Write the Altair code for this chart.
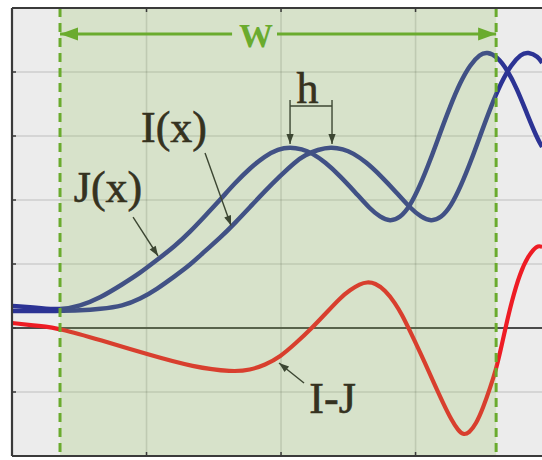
import math
import altair as alt
import pandas as pd

# ---- curve samples (x and y in grid units) ----
j_x = [0.000, 0.208, 0.357, 0.506, 0.654, 0.825, 0.952, 1.078, 1.212, 1.323, 1.435, 1.546,
       1.658, 1.770, 1.881, 1.978, 2.067, 2.156, 2.230, 2.327, 2.439, 2.550, 2.662, 2.736,
       2.810, 2.885, 2.959, 3.033, 3.108, 3.182, 3.257, 3.331, 3.405, 3.480, 3.532, 3.606,
       3.680, 3.755, 3.829, 3.903, 3.941]
j_y = [0.344, 0.313, 0.281, 0.344, 0.469, 0.688, 0.859, 1.063, 1.281, 1.500, 1.750, 2.000,
       2.266, 2.500, 2.688, 2.797, 2.828, 2.797, 2.734, 2.594, 2.375, 2.125, 1.859, 1.734,
       1.664, 1.719, 1.906, 2.223, 2.614, 3.042, 3.463, 3.834, 4.114, 4.280, 4.313, 4.242,
       4.041, 3.734, 3.344, 2.969, 2.828]

i_x = [0.000, 0.357, 0.506, 0.654, 0.825, 0.952, 1.078, 1.212, 1.323, 1.435, 1.546, 1.658,
       1.770, 1.881, 1.993, 2.104, 2.178, 2.275, 2.372, 2.461, 2.535, 2.632, 2.743, 2.855,
       2.967, 3.041, 3.115, 3.190, 3.264, 3.338, 3.413, 3.487, 3.561, 3.636, 3.710, 3.784,
       3.836, 3.911, 3.941]
i_y = [0.266, 0.266, 0.273, 0.297, 0.344, 0.453, 0.609, 0.813, 0.984, 1.203, 1.406, 1.641,
       1.891, 2.141, 2.375, 2.594, 2.703, 2.789, 2.828, 2.797, 2.734, 2.594, 2.375, 2.125,
       1.859, 1.734, 1.664, 1.719, 1.906, 2.223, 2.614, 3.042, 3.463, 3.834, 4.114, 4.280,
       4.313, 4.242, 4.141]

d_x = [0.000, 0.208, 0.357, 0.654, 1.026, 1.346, 1.643, 1.770, 1.881, 1.993, 2.112, 2.230,
       2.335, 2.439, 2.513, 2.587, 2.639, 2.699, 2.773, 2.848, 2.900, 2.944, 3.033, 3.130,
       3.204, 3.271, 3.316, 3.353, 3.398, 3.450, 3.502, 3.554, 3.599, 3.636, 3.665, 3.717,
       3.777, 3.836, 3.903, 3.941]
d_y = [0.078, 0.031, -0.008, -0.188, -0.422, -0.609, -0.688, -0.656, -0.578, -0.453, -0.234,
       0.000, 0.234, 0.469, 0.594, 0.688, 0.719, 0.703, 0.594, 0.391, 0.203, 0.016, -0.375,
       -0.828, -1.172, -1.453, -1.594, -1.672, -1.641, -1.500, -1.250, -0.938, -0.641,
       -0.313, -0.031, 0.438, 0.859, 1.125, 1.297, 1.266]

# ---- frame ----
X_MAX = 3.94
Y_MIN, Y_MAX = -2, 5
W, H = 530, 448
grid_x = [1, 2, 3]
grid_y = [-1, 1, 2, 3, 4]
win_lo, win_hi = 0.357, 3.599          # window W (dashed bounds)
w_arrow_y = 4.594
w_gap = (1.636, 1.970)                   # gap in the arrow for the label
w_label = (1.814, 4.39)

h_left, h_right = 2.067, 2.379           # peaks of J and I
h_bar_y, h_top_y, h_tip_y = 3.469, 3.5625, 2.875
h_label = (2.197, 3.516)

labels = pd.DataFrame({
    "x": [1.204, 0.714, 2.383],
    "y": [2.906, 1.969, -1.328],
    "t": ["I(x)", "J(x)", "I-J"],
})

# pointers: start -> tip
pointers = pd.DataFrame({
    "x": [1.435, 0.900, 2.171],
    "y": [2.734, 1.734, -0.859],
    "x2": [1.628, 1.086, 1.985],
    "y2": [1.600, 1.125, -0.547],
})

BLUE = "#2c3394"
RED = "#ee1c25"
GREEN = "#6aab2e"
INK = "#35321f"
PTR = "#3c4632"
SERIF = "Liberation Serif"
HEAD = "M0,0L-2,-0.72L-2,0.72Z"

xs = alt.Scale(domain=[0, X_MAX], nice=False, zero=False)
ys = alt.Scale(domain=[Y_MIN, Y_MAX], nice=False, zero=False)


def X(f="x"):
    return alt.X(f"{f}:Q", scale=xs, axis=None)


def Y(f="y"):
    return alt.Y(f"{f}:Q", scale=ys, axis=None)


def angle_of(x0, y0, x1, y1):
    dx = (x1 - x0) * W / X_MAX
    dy = -(y1 - y0) * H / (Y_MAX - Y_MIN)
    return math.degrees(math.atan2(dy, dx)) % 360


# gridlines
vgrid = alt.Chart(pd.DataFrame({"x": grid_x})).mark_rule(
    color="#000", opacity=0.13, strokeWidth=1.6).encode(x=X())
hgrid = alt.Chart(pd.DataFrame({"y": grid_y})).mark_rule(
    color="#000", opacity=0.13, strokeWidth=1.6).encode(y=Y())
zero = alt.Chart(pd.DataFrame({"y": [0]})).mark_rule(
    color="#4a4a4a", strokeWidth=2).encode(y=Y())


# curves
def curve(xv, yv, color, width):
    return alt.Chart(pd.DataFrame({"x": xv, "y": yv})).mark_line(
        color=color, strokeWidth=width, interpolate="basis").encode(x=X(), y=Y())


j_line = curve(j_x, j_y, BLUE, 4.5)
i_line = curve(i_x, i_y, BLUE, 4.5)
d_line = curve(d_x, d_y, RED, 4.2)

# translucent window band
band = alt.Chart(pd.DataFrame({"x": [win_lo], "x2": [win_hi],
                               "y": [Y_MIN], "y2": [Y_MAX]})).mark_rect(
    color="#8cc152", opacity=0.22).encode(x=X(), x2="x2", y=Y(), y2="y2")

dashes = alt.Chart(pd.DataFrame({"x": [win_lo, win_hi]})).mark_rule(
    color=GREEN, strokeWidth=3, strokeDash=[9, 6]).encode(x=X())

# frame (left, top, bottom) with small inward ticks
frame_v = alt.Chart(pd.DataFrame({"x": [0], "y": [Y_MIN], "y2": [Y_MAX]})).mark_rule(
    color="#3a3a3a", strokeWidth=2.2).encode(x=X(), y=Y(), y2="y2")
frame_h = alt.Chart(pd.DataFrame({"y": [Y_MIN, Y_MAX], "x": [0, 0],
                                  "x2": [X_MAX, X_MAX]})).mark_rule(
    color="#3a3a3a", strokeWidth=2.2).encode(y=Y(), x=X(), x2="x2")
tick_len_x = 4 * X_MAX / W
tick_len_y = 4 * (Y_MAX - Y_MIN) / H
ty = grid_y + [0]
lt = alt.Chart(pd.DataFrame({"y": ty, "x": [0.0] * len(ty),
                             "x2": [tick_len_x] * len(ty)})).mark_rule(
    color="#3a3a3a", strokeWidth=1.5).encode(y=Y(), x=X(), x2="x2")
bt = alt.Chart(pd.DataFrame({"x": grid_x * 2,
                             "y": [Y_MIN] * 3 + [Y_MAX] * 3,
                             "y2": [Y_MIN + tick_len_y] * 3 + [Y_MAX - tick_len_y] * 3})).mark_rule(
    color="#3a3a3a", strokeWidth=1.5).encode(x=X(), y=Y(), y2="y2")

# W dimension arrow
w_line = alt.Chart(pd.DataFrame({"x": [win_lo, w_gap[1]], "x2": [w_gap[0], win_hi],
                                 "y": [w_arrow_y, w_arrow_y]})).mark_rule(
    color=GREEN, strokeWidth=3).encode(x=X(), x2="x2", y=Y())
w_heads = alt.Chart(pd.DataFrame({"x": [win_lo, win_hi], "y": [w_arrow_y] * 2,
                                  "a": [180, 0]})).mark_point(
    shape=HEAD, filled=True, opacity=1, color=GREEN, size=324, strokeWidth=0).encode(
    x=X(), y=Y(), angle=alt.Angle("a:Q", scale=None))
w_text = alt.Chart(pd.DataFrame({"x": [w_label[0]], "y": [w_label[1]], "t": ["W"]})).mark_text(
    font=SERIF, fontSize=34, fontWeight="bold", color=GREEN,
    align="center", baseline="alphabetic").encode(x=X(), y=Y(), text="t:N")

# h bracket
h_rules = alt.Chart(pd.DataFrame({
    "x": [h_left, h_left, h_right], "x2": [h_right, h_left, h_right],
    "y": [h_bar_y, h_top_y, h_top_y], "y2": [h_bar_y, h_tip_y, h_tip_y]})).mark_rule(
    color=PTR, strokeWidth=1.4).encode(x=X(), x2="x2", y=Y(), y2="y2")
h_heads = alt.Chart(pd.DataFrame({"x": [h_left, h_right], "y": [h_tip_y] * 2,
                                  "a": [90, 90]})).mark_point(
    shape=HEAD, filled=True, opacity=1, color=PTR, size=100, strokeWidth=0).encode(
    x=X(), y=Y(), angle=alt.Angle("a:Q", scale=None))
h_text = alt.Chart(pd.DataFrame({"x": [h_label[0]], "y": [h_label[1]], "t": ["h"]})).mark_text(
    font=SERIF, fontSize=44, color=INK, stroke=INK, strokeWidth=0.6, align="center",
    baseline="alphabetic").encode(x=X(), y=Y(), text="t:N")

# pointer arrows to the curves
pointers["a"] = [angle_of(r.x, r.y, r.x2, r.y2) for r in pointers.itertuples()]
p_lines = alt.Chart(pointers).mark_rule(color=PTR, strokeWidth=1.4).encode(
    x=X(), x2="x2", y=Y(), y2="y2")
p_heads = alt.Chart(pointers).mark_point(
    shape=HEAD, filled=True, opacity=1, color=PTR, size=100, strokeWidth=0).encode(
    x=X("x2"), y=Y("y2"), angle=alt.Angle("a:Q", scale=None))
texts = alt.Chart(labels).mark_text(
    font=SERIF, fontSize=44, color=INK, stroke=INK, strokeWidth=0.6, align="center",
    baseline="alphabetic").encode(x=X(), y=Y(), text="t:N")

chart = alt.layer(
    vgrid, hgrid, zero, j_line, i_line, d_line, band, dashes,
    frame_v, frame_h, lt, bt, w_line, w_heads, w_text,
    h_rules, h_heads, h_text, p_lines, p_heads, texts,
).properties(
    width=W, height=H,
    padding={"left": 12, "top": 8, "right": 0, "bottom": 4},
    autosize=alt.AutoSizeParams(type="none"),
    background="white",
).configure_view(stroke=None, fill="#ececec")

chart.save("out.html", embed_options={"renderer": "svg", "actions": False})
